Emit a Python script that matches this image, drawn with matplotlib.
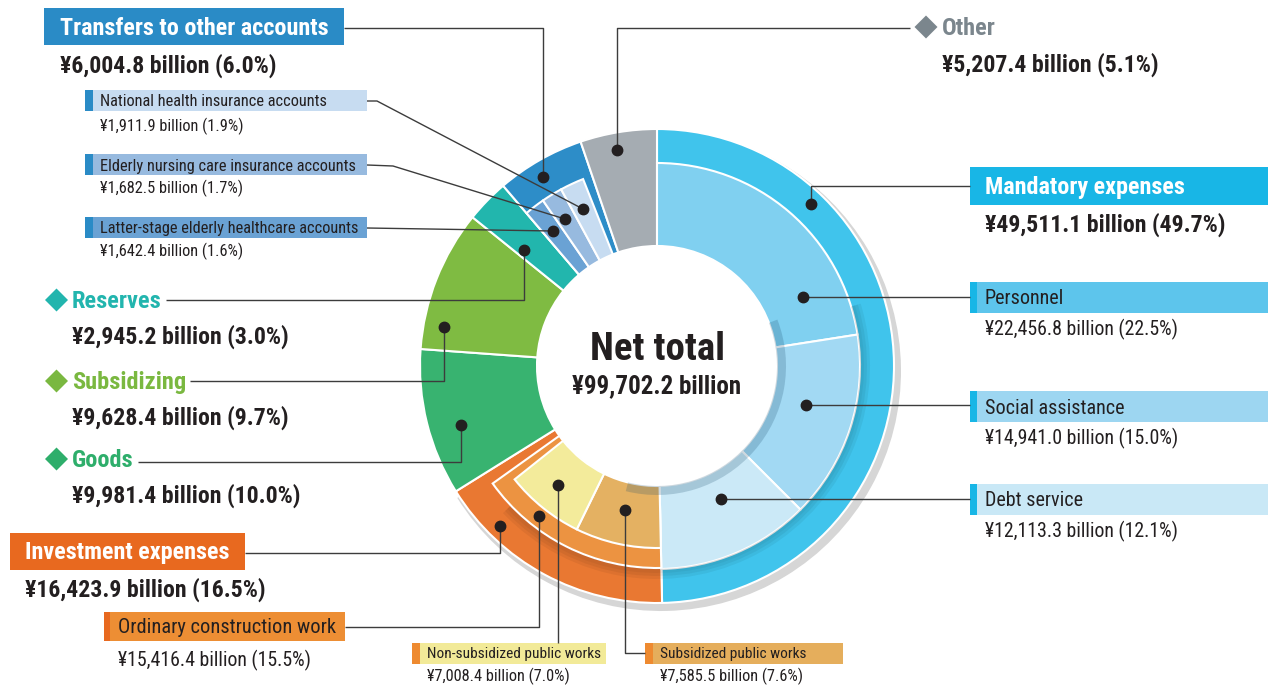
import matplotlib
matplotlib.use('Agg')
import matplotlib.pyplot as plt
from matplotlib import font_manager
from matplotlib.patches import Rectangle, Polygon

names = set(font_manager.get_font_names())
if 'Roboto Condensed' in names:
    FAM, FS = 'Roboto Condensed', 1.0
else:
    FAM, FS = 'Roboto', 0.86
plt.rcParams['font.family'] = [FAM, 'DejaVu Sans']

# ---------------- data ----------------
main_labels = ['Mandatory expenses', 'Investment expenses', 'Goods', 'Subsidizing',
               'Reserves', 'Transfers to other accounts', 'Other']
main_values = [49511.1, 16423.9, 9981.4, 9628.4, 2945.2, 6004.8, 5207.4]
main_pcts = [49.7, 16.5, 10.0, 9.7, 3.0, 6.0, 5.1]

mand_labels = ['Personnel', 'Social assistance', 'Debt service']
mand_values = [22456.8, 14941.0, 12113.3]
mand_pcts = [22.5, 15.0, 12.1]

ordinary_label = 'Ordinary construction work'
ordinary_value = 15416.4
ordinary_pct = 15.5

public_labels = ['Subsidized public works', 'Non-subsidized public works']
public_values = [7585.5, 7008.4]
public_pcts = [7.6, 7.0]

transfer_labels = ['Latter-stage elderly healthcare accounts',
                   'Elderly nursing care insurance accounts',
                   'National health insurance accounts']
transfer_values = [1642.4, 1682.5, 1911.9]
transfer_pcts = [1.6, 1.7, 1.9]

net_total = 99702.2
center_title = 'Net total'

# ---------------- style ----------------
main_colors = ['#40c4ec', '#e97832', '#38b370', '#7fbb42', '#22b6ad', '#2d8dc8', '#a5acb2']
mand_colors = ['#80d0f0', '#a2d9f3', '#cbe9f7']
ordinary_color = '#ec9341'
public_colors = ['#e4b162', '#f3eb9b']
transfer_colors = ['#6aa2d4', '#97badf', '#c7dcf1']
DARK = '#231f20'
LINE = '#3c3c3c'

C = (657, 366)
R_OUT, R_IN = 237, 120
R_SUB = 203
R_PUB = 182


def fmt(v, p):
    return f'\u00a5{v:,.1f} billion ({p:.1f}%)'


fig = plt.figure(figsize=(12.68, 6.86), dpi=100)
ax = fig.add_axes([0, 0, 1, 1])


def ring(values, colors, radius, width, lead=0.0, center=C, lw=1.2,
         edge='white', zorder=1, alpha=1.0):
    vals = ([lead] if lead > 0 else []) + list(values)
    rest = net_total - sum(vals)
    if rest > 1e-6:
        vals.append(rest)
    wedges, _ = ax.pie(vals, radius=radius, center=center, startangle=-90,
                       counterclock=True,
                       wedgeprops=dict(width=width, edgecolor=edge, linewidth=lw))
    off = 1 if lead > 0 else 0
    for i, w in enumerate(wedges):
        j = i - off
        if 0 <= j < len(values):
            w.set_facecolor(colors[j])
            w.set_zorder(zorder)
            w.set_alpha(alpha)
        else:
            w.set_visible(False)
    return wedges


# drop shadow behind mandatory + investment
ring([main_values[0] + main_values[1]], ['#d6d6d6'], R_OUT + 3, 40,
     center=(C[0] + 4, C[1] + 5), lw=0, zorder=0.5)
# main ring
ring(main_values, main_colors, R_OUT, R_OUT - R_IN, lw=1.5, zorder=1)
# mandatory breakdown
ring(mand_values, mand_colors, R_SUB, R_SUB - R_IN, lw=1.5, zorder=2)
# ordinary construction work
ring([ordinary_value], [ordinary_color], 202, 202 - R_IN,
     lead=main_values[0], lw=1.5, zorder=2)
# public works
ring(public_values, public_colors, R_PUB, R_PUB - R_IN,
     lead=main_values[0], lw=1.5, zorder=2.1)
# transfers breakdown
ring(transfer_values, transfer_colors, 201, 201 - R_IN,
     lead=sum(main_values[:5]), lw=1.5, zorder=2)

# subtle inner shadows (layered for a soft gradient)
for k, a in enumerate([0.05, 0.05, 0.04]):
    ring([mand_values[1] + mand_values[2] + ordinary_value], ['#000000'],
         213 - 3 * k, 10 - 3 * k, lead=mand_values[0] * 0.9, lw=0,
         zorder=2.5, alpha=a)
ring([mand_values[1] + mand_values[2] + public_values[0]], ['#1f4f6e'], 129, 9,
     lead=mand_values[0] * 0.85, lw=0, zorder=2.5, alpha=0.22)

ax.set_xlim(0, 1268)
ax.set_ylim(686, 0)
ax.set_aspect('equal')
ax.axis('off')

# ---------------- center text ----------------
ax.text(C[0], 349, center_title, ha='center', va='center', fontsize=28 * FS,
        fontweight='bold', color=DARK, zorder=6)
ax.text(C[0], 386, f'\u00a5{net_total:,.1f} billion', ha='center', va='center',
        fontsize=18 * FS, fontweight='bold', color=DARK, zorder=6)


# ---------------- helpers ----------------
def leader(pts, dot=True):
    xs = [p[0] for p in pts]
    ys = [p[1] for p in pts]
    ax.plot(xs, ys, color=LINE, lw=1.0, zorder=4, solid_capstyle='butt')
    if dot:
        ax.plot(xs[0], ys[0], 'o', ms=7.5, color=DARK, zorder=5)


def box(x0, y0, x1, y1, color, stripe=None, sw=7):
    ax.add_patch(Rectangle((x0, y0), x1 - x0, y1 - y0, facecolor=color,
                           edgecolor='none', zorder=3))
    if stripe:
        ax.add_patch(Rectangle((x0, y0), sw, y1 - y0, facecolor=stripe,
                               edgecolor='none', zorder=3.1))


def diamond(cx, cy, color, h=11.5):
    ax.add_patch(Polygon([(cx - h, cy), (cx, cy - h), (cx + h, cy), (cx, cy + h)],
                         closed=True, facecolor=color, edgecolor='none', zorder=3))


def txt(x, y, s, size, color=DARK, bold=False, ha='left', dy=1.5):
    ax.text(x, y + dy, s, ha=ha, va='center', fontsize=size * FS, color=color,
            fontweight='bold' if bold else 'normal', zorder=6)


TITLE, VALUE = 17.4, 17.1

# ---------------- Transfers ----------------
box(44, 8, 344, 45, '#2a8bc6')
txt(60, 27, main_labels[5], TITLE, 'white', True)
txt(60, 64, fmt(main_values[5], main_pcts[5]), VALUE, bold=True)
leader([(543, 177), (543, 28), (344, 28)])

tr_box_y = [(217, 238), (154, 175), (90, 111)]
tr_val_y = [250, 187, 125]
tr_lines = [[(553, 231), (367, 228)],
            [(565, 219), (393, 166), (367, 165)],
            [(583, 209), (377, 101), (367, 101)]]
for i in range(3):
    y0, y1 = tr_box_y[i]
    box(85, y0, 367, y1, transfer_colors[i], stripe='#2a8bc6', sw=8)
    txt(100, (y0 + y1) / 2, transfer_labels[i], 11.8)
    txt(100, tr_val_y[i], fmt(transfer_values[i], transfer_pcts[i]), 11.8)
    leader(tr_lines[i])

# ---------------- Reserves / Subsidizing / Goods ----------------
diam_colors = ['#22b5ae', '#7ab840', '#2eae6b']
diam_y = [300, 381, 459]
diam_lines = [[(524, 250), (524, 300), (166, 300)],
              [(444, 327), (444, 381), (190, 381)],
              [(461, 425), (461, 462), (138, 462)]]
for k, idx in enumerate([4, 3, 2]):
    y = diam_y[k]
    diamond(56.5, y, diam_colors[k])
    txt(72, y, main_labels[idx], 17.6, diam_colors[k], True)
    txt(72, y + 35, fmt(main_values[idx], main_pcts[idx]), VALUE, bold=True)
    leader(diam_lines[k])

# ---------------- Investment ----------------
box(10, 533, 245, 570, '#e8691f')
txt(25, 551, main_labels[1], TITLE, 'white', True)
txt(25, 588, fmt(main_values[1], main_pcts[1]), VALUE, bold=True)
leader([(500, 526), (500, 553), (245, 553)])

box(104, 612, 345, 641, '#ed8e34', stripe='#e8691f', sw=6)
txt(118, 626, ordinary_label, 14.7)
txt(118, 659, fmt(ordinary_value, ordinary_pct), 14.3)
leader([(539, 516), (539, 627), (345, 627)])

box(412, 643, 606, 664, '#f2ea98', stripe='#ee8a30', sw=8)
txt(427, 653.5, public_labels[1], 11.1, dy=0.5)
txt(427, 676, fmt(public_values[1], public_pcts[1]), 11.8, dy=0.5)
leader([(558, 485), (558, 643)])

box(645, 643, 843, 664, '#e5ae5c', stripe='#ee8a30', sw=8)
txt(660, 653.5, public_labels[0], 11.1, dy=0.5)
txt(660, 676, fmt(public_values[0], public_pcts[0]), 11.8, dy=0.5)
leader([(625, 510), (625, 653), (645, 653)])

# ---------------- Other ----------------
diamond(926, 27, '#7b868d')
txt(942, 27, main_labels[6], 17.6, '#7b868d', True)
txt(942, 63, fmt(main_values[6], main_pcts[6]), VALUE, bold=True)
leader([(617, 150), (617, 28), (910, 28)])

# ---------------- Mandatory ----------------
box(970, 167, 1268, 205, '#18b6e6')
txt(985, 186, main_labels[0], TITLE, 'white', True)
txt(985, 223, fmt(main_values[0], main_pcts[0]), VALUE, bold=True)
leader([(811, 204), (811, 186), (970, 186)])

mand_box_y = [(282, 313), (391, 422), (484, 515)]
mand_box_c = ['#5dc5ec', '#9dd6f1', '#c9e8f6']
mand_lines = [[(803, 297), (970, 297)],
              [(806, 405), (970, 405)],
              [(721, 499), (970, 499)]]
for i in range(3):
    y0, y1 = mand_box_y[i]
    box(970, y0, 1268, y1, mand_box_c[i], stripe='#18b6e6', sw=7)
    txt(985, (y0 + y1) / 2, mand_labels[i], 14.5)
    txt(985, y1 + 15, fmt(mand_values[i], mand_pcts[i]), 14.3)
    leader(mand_lines[i])

fig.savefig('out.png', dpi=100)
